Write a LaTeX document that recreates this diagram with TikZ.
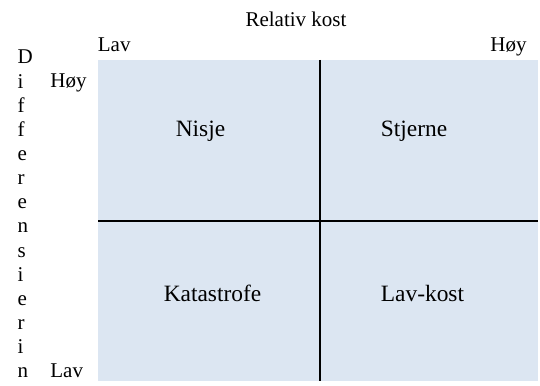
\documentclass[tikz,border=0pt]{standalone}
\usepackage{fontspec}
\setmainfont{Liberation Serif}
\definecolor{cellfill}{RGB}{220,230,242}
\begin{document}
\begin{tikzpicture}[x=0.5pt,y=-0.5pt,
  axislabel/.style={inner sep=0pt,font=\fontsize{10.5}{12}\selectfont},
  cellname/.style={inner sep=0pt,anchor=base,font=\fontsize{11.7}{14}\selectfont},
  divider/.style={line width=1pt,black}]
\useasboundingbox (0,0) rectangle (540,385);

% matrix area
\coordinate (nw) at (98,60);
\coordinate (se) at (538,381);
\fill[cellfill] (nw) rectangle (se);

% dividers
\coordinate (vtop) at (320,60);
\coordinate (vbot) at (320,381);
\coordinate (hleft) at (98,220.5);
\coordinate (hright) at (538,220.5);
\draw[divider] (vtop) -- (vbot);
\draw[divider] (hleft) -- (hright);

% quadrant names
\node[cellname] (nisje) at (200.5,136) {Nisje};
\node[cellname] (stjerne) at (414,136) {Stjerne};
\node[cellname] (katastrofe) at (212.5,301.5) {Katastrofe};
\node[cellname] (lavkost) at (422.5,301.5) {Lav-kost};

% horizontal axis
\node[axislabel,anchor=base] (xtitle) at (296,26.5) {Relativ kost};
\node[axislabel,anchor=base west] (xlow) at (97.5,52) {Lav};
\node[axislabel,anchor=base east] (xhigh) at (527,52) {Høy};

% vertical axis
\node[axislabel,anchor=base west] (yhigh) at (50,88) {Høy};
\node[axislabel,anchor=base west] (ylow) at (50,377.5) {Lav};
\foreach \ch [count=\i from 0] in {D,i,f,f,e,r,e,n,s,i,e,r,i,n}
  \node[axislabel,anchor=base west] (ytitle\i) at (17.3,64+24.13*\i) {\ch};
\end{tikzpicture}
\end{document}
